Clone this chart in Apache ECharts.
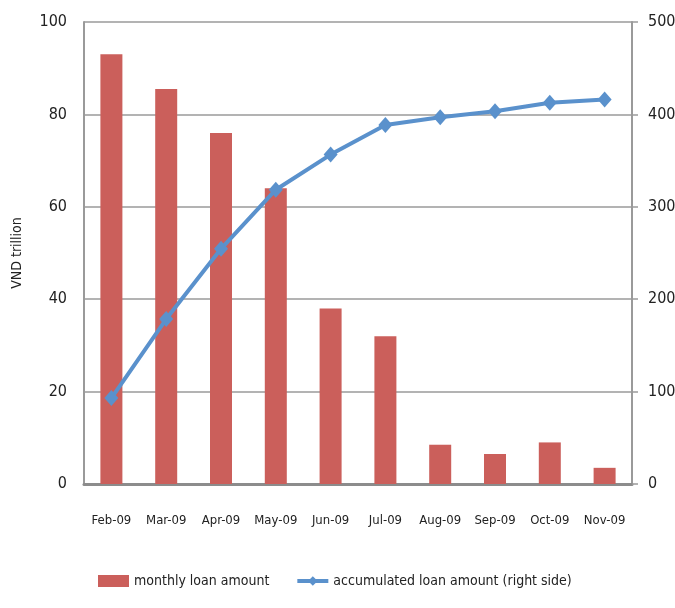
<!DOCTYPE html>
<html>
<head>
<meta charset="utf-8">
<script src="https://cdn.jsdelivr.net/npm/echarts@6/dist/echarts.min.js"></script>
<style>
  html, body { margin: 0; padding: 0; background: #fff; }
  #chart { width: 675px; height: 608px; }
</style>
</head>
<body>
<div id="chart"></div>
<script>
// Monthly and accumulated loan amounts (VND trillion)
const months = ['Feb-09', 'Mar-09', 'Apr-09', 'May-09', 'Jun-09', 'Jul-09', 'Aug-09', 'Sep-09', 'Oct-09', 'Nov-09'];
const monthlyLoan = [93, 85.5, 76, 64, 38, 32, 8.5, 6.5, 9, 3.5];
const accumulatedLoan = [93, 178.5, 254.5, 318.5, 356.5, 388.5, 397, 403.5, 412.5, 416];

const FONT = "'DejaVu Sans Condensed', 'Liberation Sans', sans-serif";
const AXIS_GREY = '#9a9a9a';
const LINE_BLUE = '#5a91cc';

const chart = echarts.init(document.getElementById('chart'));
chart.setOption({
  animation: false,
  textStyle: { fontFamily: FONT },
  grid: { left: 84, right: 43, top: 22, bottom: 124, containLabel: false, outerBoundsMode: 'none' },
  legend: {
    bottom: 15,
    left: 93,
    itemGap: 26,
    itemWidth: 31,
    itemHeight: 12,
    textStyle: { fontFamily: FONT, fontSize: 14, color: '#222' },
    data: [
      { name: 'monthly loan amount', icon: 'rect' },
      {
        name: 'accumulated loan amount (right side)',
        lineStyle: { width: 4, color: LINE_BLUE }
      }
    ]
  },
  xAxis: {
    type: 'category',
    data: months,
    axisLine: { lineStyle: { color: '#8c8c8c', width: 3 } },
    axisTick: { show: false },
    axisLabel: { interval: 0, fontFamily: FONT, fontSize: 13, color: '#222', margin: 30 }
  },
  yAxis: [
    {
      type: 'value',
      min: 0, max: 100, interval: 20,
      name: 'VND trillion',
      nameLocation: 'middle',
      nameGap: 60,
      nameRotate: 90,
      nameTextStyle: { fontFamily: FONT, fontSize: 14, color: '#222' },
      axisLine: { show: true, lineStyle: { color: AXIS_GREY, width: 2 } },
      axisTick: { show: false },
      axisLabel: { fontFamily: FONT, fontSize: 16, color: '#222', margin: 17 },
      splitLine: { lineStyle: { color: AXIS_GREY, width: 1.5 } }
    },
    {
      type: 'value',
      min: 0, max: 500, interval: 100,
      position: 'right',
      axisLine: { show: true, lineStyle: { color: AXIS_GREY, width: 2 } },
      axisTick: { show: true, length: 6, lineStyle: { color: AXIS_GREY, width: 1.5 } },
      axisLabel: { fontFamily: FONT, fontSize: 16, color: '#222', margin: 16 },
      splitLine: { show: false }
    }
  ],
  series: [
    {
      name: 'monthly loan amount',
      type: 'bar',
      data: monthlyLoan,
      barWidth: 22,
      itemStyle: { color: '#cb5f5b' }
    },
    {
      name: 'accumulated loan amount (right side)',
      type: 'line',
      yAxisIndex: 1,
      data: accumulatedLoan,
      symbol: 'diamond',
      symbolSize: [14, 16],
      lineStyle: { color: LINE_BLUE, width: 4 },
      itemStyle: { color: LINE_BLUE }
    }
  ]
});
</script>
</body>
</html>
